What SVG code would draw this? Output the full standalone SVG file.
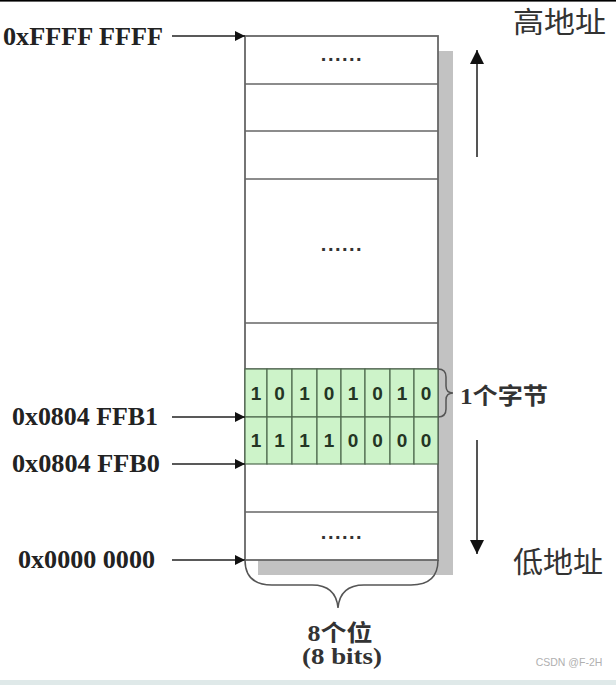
<svg xmlns="http://www.w3.org/2000/svg" width="616" height="685" viewBox="0 0 616 685">
<defs>
<style>
.addr{font-family:"Liberation Serif","Times New Roman",serif;font-weight:bold;font-size:26px;fill:#222}
.cjk{font-family:"Noto Sans CJK SC","Noto Sans",sans-serif;font-size:29px;fill:#333}
.lbl{font-family:"Liberation Serif","Noto Sans CJK SC",serif;font-weight:bold;font-size:23px;fill:#333}
.bit{font-family:"Liberation Sans","Arial",sans-serif;font-weight:bold;font-size:19px;fill:#243524;text-anchor:middle}
.dots{font-family:"Liberation Sans",sans-serif;font-weight:bold;font-size:20px;fill:#333;letter-spacing:1.5px;text-anchor:middle}
.row{stroke:#666;stroke-width:1.6;fill:none}
.cell{fill:#cdf3c9;stroke:#4f6a4f;stroke-width:1.2}
.conn{stroke:#222;stroke-width:1.5;fill:none}
.brace{stroke:#555;stroke-width:1.5;fill:none}
</style>
<marker id="ah" viewBox="0 0 10 10" refX="10" refY="5" markerWidth="13" markerHeight="10" markerUnits="userSpaceOnUse" orient="auto">
<path d="M0,0 L10,5 L0,10 z" fill="#111"/>
</marker>
<marker id="ah2" viewBox="0 0 10 10" refX="10" refY="5" markerWidth="14" markerHeight="16" markerUnits="userSpaceOnUse" orient="auto">
<path d="M0,0 L10,5 L0,10 z" fill="#111"/>
</marker>
</defs>
<rect x="0" y="0" width="616" height="685" fill="#fff"/>
<rect x="0" y="0" width="616" height="1.6" fill="#000"/>
<rect x="0" y="680" width="616" height="5" fill="#dfe9e9"/>

<g id="memory">
<rect x="438" y="51" width="15" height="524" fill="#c2c2c2"/>
<rect x="258" y="560" width="195" height="15" fill="#c2c2c2"/>
<rect x="245" y="36" width="193" height="524" fill="#fff" stroke="#666" stroke-width="1.8"/>
<line class="row" x1="245" y1="84" x2="438" y2="84"/>
<line class="row" x1="245" y1="131" x2="438" y2="131"/>
<line class="row" x1="245" y1="179" x2="438" y2="179"/>
<line class="row" x1="245" y1="323" x2="438" y2="323"/>
<line class="row" x1="245" y1="369" x2="438" y2="369"/>
<line class="row" x1="245" y1="512" x2="438" y2="512"/>
<text class="dots" x="342" y="61">......</text>
<text class="dots" x="342" y="251">......</text>
<text class="dots" x="342" y="539">......</text>
</g>

<g id="byte1">
<rect class="cell" x="245" y="369" width="22" height="48"/>
<rect class="cell" x="267" y="369" width="25" height="48"/>
<rect class="cell" x="292" y="369" width="25" height="48"/>
<rect class="cell" x="317" y="369" width="24" height="48"/>
<rect class="cell" x="341" y="369" width="24" height="48"/>
<rect class="cell" x="365" y="369" width="25" height="48"/>
<rect class="cell" x="390" y="369" width="24" height="48"/>
<rect class="cell" x="414" y="369" width="24" height="48"/>
<text class="bit" x="256" y="400">1</text>
<text class="bit" x="279.5" y="400">0</text>
<text class="bit" x="304.5" y="400">1</text>
<text class="bit" x="329" y="400">0</text>
<text class="bit" x="353" y="400">1</text>
<text class="bit" x="377.5" y="400">0</text>
<text class="bit" x="402" y="400">1</text>
<text class="bit" x="426" y="400">0</text>
</g>

<g id="byte0">
<rect class="cell" x="245" y="417" width="22" height="47"/>
<rect class="cell" x="267" y="417" width="25" height="47"/>
<rect class="cell" x="292" y="417" width="25" height="47"/>
<rect class="cell" x="317" y="417" width="24" height="47"/>
<rect class="cell" x="341" y="417" width="24" height="47"/>
<rect class="cell" x="365" y="417" width="25" height="47"/>
<rect class="cell" x="390" y="417" width="24" height="47"/>
<rect class="cell" x="414" y="417" width="24" height="47"/>
<text class="bit" x="256" y="447">1</text>
<text class="bit" x="279.5" y="447">1</text>
<text class="bit" x="304.5" y="447">1</text>
<text class="bit" x="329" y="447">1</text>
<text class="bit" x="353" y="447">0</text>
<text class="bit" x="377.5" y="447">0</text>
<text class="bit" x="402" y="447">0</text>
<text class="bit" x="426" y="447">0</text>
</g>

<g id="labels">
<text class="addr" x="163" y="45" text-anchor="end" textLength="160" lengthAdjust="spacingAndGlyphs">0xFFFF FFFF</text>
<text class="addr" x="158" y="425" text-anchor="end" textLength="146" lengthAdjust="spacingAndGlyphs">0x0804 FFB1</text>
<text class="addr" x="160" y="472" text-anchor="end" textLength="148" lengthAdjust="spacingAndGlyphs">0x0804 FFB0</text>
<text class="addr" x="155" y="568" text-anchor="end" textLength="137" lengthAdjust="spacingAndGlyphs">0x0000 0000</text>
<text class="cjk" x="513" y="33" textLength="93" lengthAdjust="spacingAndGlyphs">高地址</text>
<text class="cjk" x="513" y="573" textLength="90" lengthAdjust="spacingAndGlyphs">低地址</text>
<text class="lbl" x="460" y="404" textLength="88" lengthAdjust="spacingAndGlyphs">1个字节</text>
<text class="lbl" x="340" y="641" text-anchor="middle" textLength="65" lengthAdjust="spacingAndGlyphs">8个位</text>
<text class="lbl" x="342" y="664" text-anchor="middle" textLength="80" lengthAdjust="spacingAndGlyphs">(8 bits)</text>
<text x="569" y="666" text-anchor="middle" font-family="Liberation Sans, sans-serif" font-size="10.5" fill="#b0b0b0">CSDN @F-2H</text>
</g>

<g id="connectors">
<line class="conn" x1="172" y1="36" x2="245" y2="36" marker-end="url(#ah)"/>
<line class="conn" x1="172" y1="417" x2="245" y2="417" marker-end="url(#ah)"/>
<line class="conn" x1="172" y1="464" x2="245" y2="464" marker-end="url(#ah)"/>
<line class="conn" x1="172" y1="560" x2="245" y2="560" marker-end="url(#ah)"/>
<line x1="477" y1="157" x2="477" y2="50" stroke="#555" stroke-width="2" marker-end="url(#ah2)"/>
<line x1="477" y1="440" x2="477" y2="554" stroke="#555" stroke-width="2" marker-end="url(#ah2)"/>
<path class="brace" d="M438,369 Q446,369 446,377 L446,386 Q446,393 453,393 Q446,393 446,400 L446,409 Q446,417 438,417"/>
<path class="brace" d="M245,560 Q245,585 272,585 L312,585 Q336,585 338,608 Q340,585 364,585 L411,585 Q438,585 438,560"/>
</g>
</svg>
